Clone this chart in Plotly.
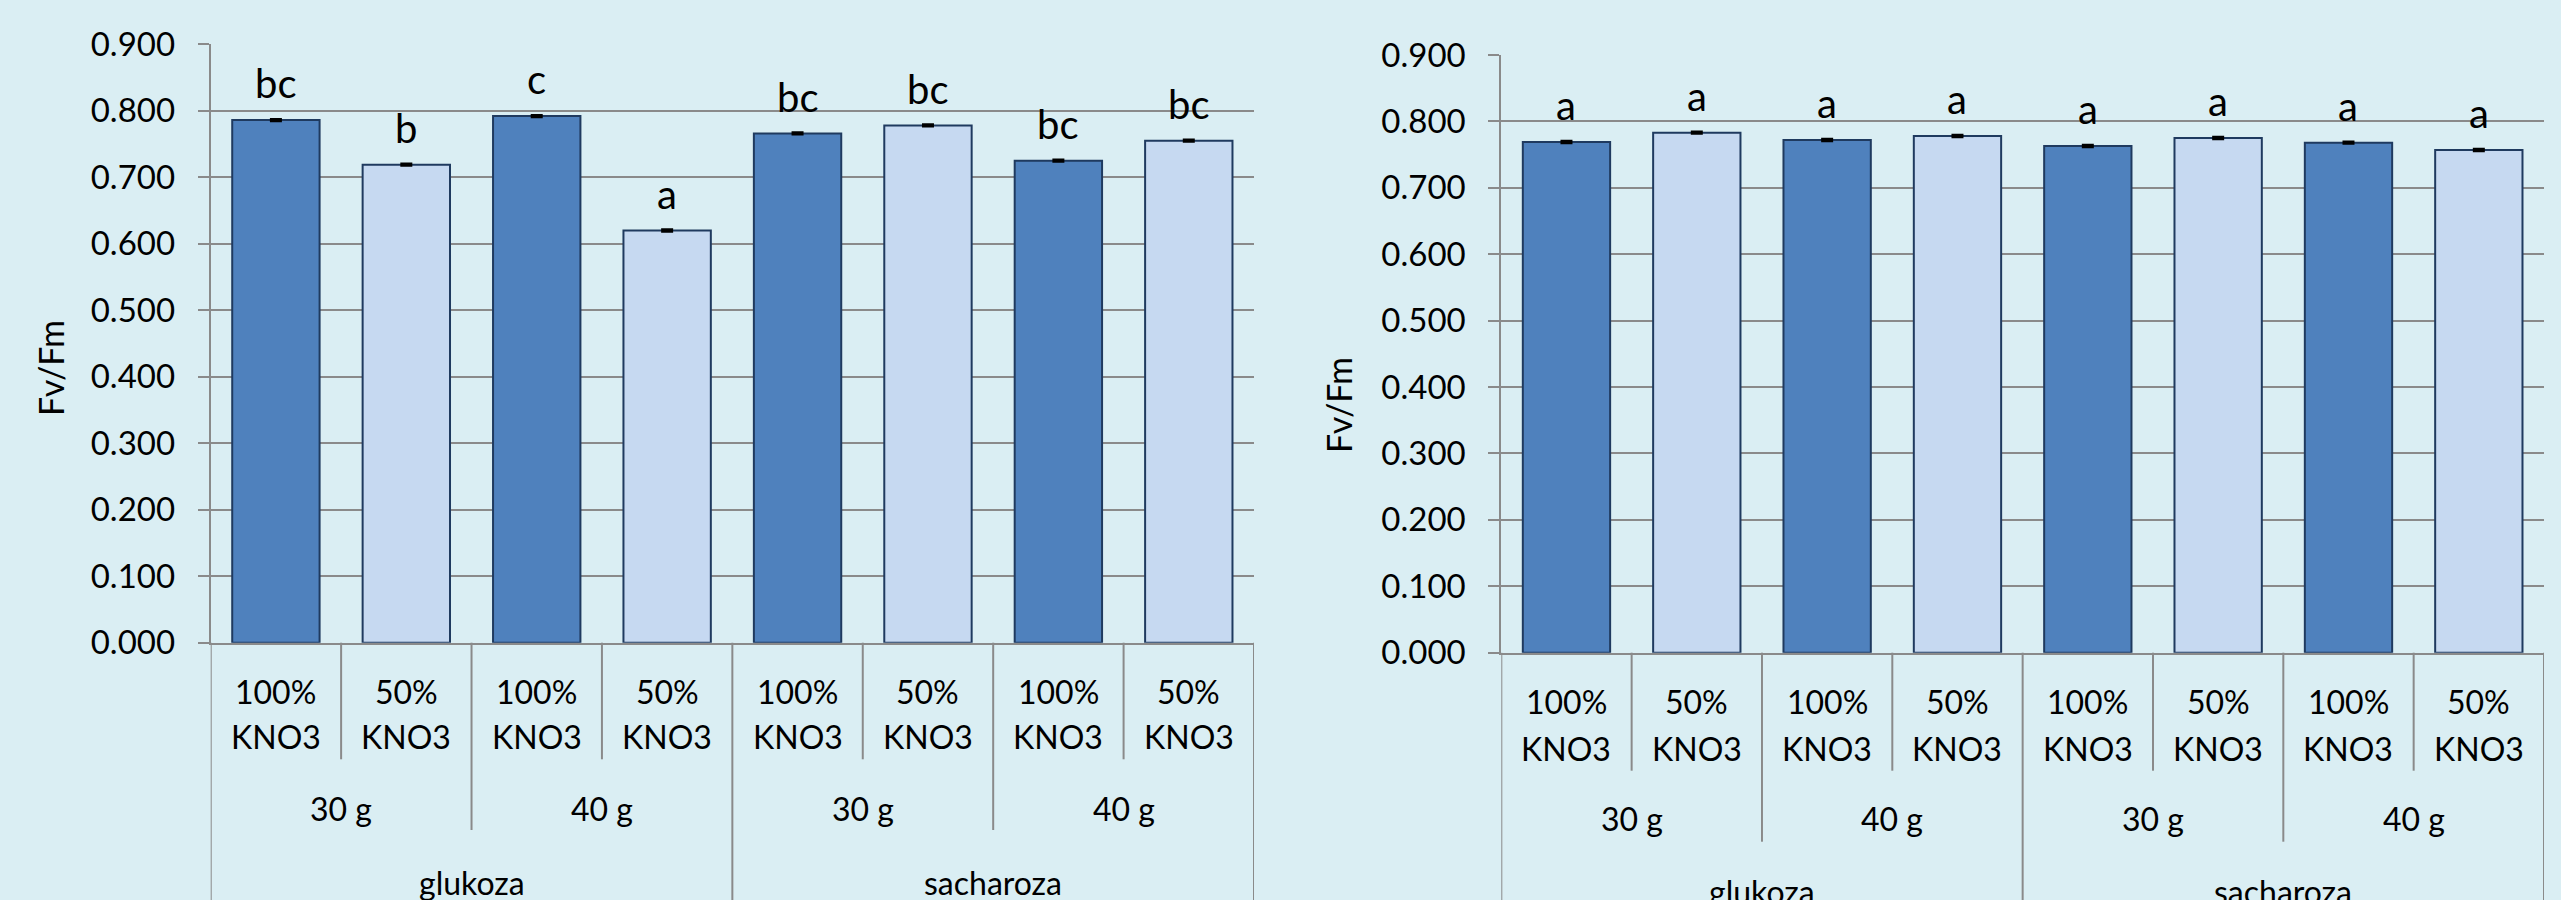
import plotly.graph_objects as go

# Category hierarchy along the x axis (innermost level first)
nitrate = ["100%<br>KNO3", "50%<br>KNO3"] * 4
dose = ["30 g", "40 g", "30 g", "40 g"]
sugar = ["glukoza", "sacharoza"]

# Fv/Fm means, standard errors and significance letters
fvfm_left = [0.786, 0.719, 0.792, 0.620, 0.766, 0.778, 0.725, 0.755]
err_left = [0.001, 0.001, 0.001, 0.001, 0.001, 0.001, 0.001, 0.001]
letters_left = ["bc", "b", "c", "a", "bc", "bc", "bc", "bc"]

fvfm_right = [0.769, 0.783, 0.772, 0.778, 0.763, 0.775, 0.768, 0.757]
err_right = [0.001, 0.001, 0.001, 0.001, 0.001, 0.001, 0.001, 0.001]
letters_right = ["a", "a", "a", "a", "a", "a", "a", "a"]

y_title = "Fv/Fm"

W, H = 2561, 900
BG = "#DAEEF3"
DARK = "#4F81BD"
LIGHT = "#C6D9F1"
EDGE = "#1F3A5F"
GRID = "#8A8A8A"
FONT = "Lato"


def fx(px):
    return px / W


def fy(px):
    return 1 - px / H


panels = [
    dict(values=fvfm_left, errs=err_left, letters=letters_left,
         x0=210.7, x1=1254.0, top=44.3, base=642.7, title=(50, 368),
         rows=(691.7, 736.7, 808.0, 882.0), divs=(759.3, 830.0, 900.0)),
    dict(values=fvfm_right, errs=err_right, letters=letters_right,
         x0=1501.3, x1=2544.0, top=55.0, base=652.7, title=(1339, 405),
         rows=(701.7, 748.0, 818.3, 891.0), divs=(770.7, 841.7, 900.0)),
]

positions = list(range(len(nitrate)))
colors = [DARK if lbl.startswith("100") else LIGHT for lbl in nitrate]

fig = go.Figure()
annotations = []
shapes = []
layout_axes = {}

for k, p in enumerate(panels, start=1):
    xa = "x" if k == 1 else f"x{k}"
    ya = "y" if k == 1 else f"y{k}"

    fig.add_trace(go.Bar(
        x=positions, y=p["values"], width=0.67,
        marker=dict(color=colors, line=dict(color=EDGE, width=2)),
        error_y=dict(type="data", array=p["errs"], color="black",
                     thickness=3, width=6),
        xaxis=xa, yaxis=ya, showlegend=False,
    ))

    layout_axes["xaxis" if k == 1 else f"xaxis{k}"] = dict(
        domain=[fx(p["x0"]), fx(p["x1"])], range=[-0.5, 7.5],
        anchor=ya, showticklabels=False, ticks="", showgrid=False,
        zeroline=False, showline=True, linecolor=GRID, linewidth=2,
        automargin=False,
    )
    layout_axes["yaxis" if k == 1 else f"yaxis{k}"] = dict(
        domain=[fy(p["base"]), fy(p["top"])], range=[0, 0.9],
        anchor=xa, tick0=0, dtick=0.1, tickformat=".3f",
        showgrid=True, gridcolor=GRID, gridwidth=2,
        ticks="outside", ticklen=11, tickwidth=2, tickcolor=GRID,
        showline=True, linecolor=GRID, linewidth=2, zeroline=False,
        tickfont=dict(family=FONT, size=33, color="black"),
        ticklabelstandoff=16, automargin=False,
    )

    # significance letters above each bar
    for i, (v, e, t) in enumerate(zip(p["values"], p["errs"], p["letters"])):
        annotations.append(dict(
            x=i, y=v + e, xref=xa, yref=ya, text=t, showarrow=False,
            yanchor="bottom", yshift=10,
            font=dict(family=FONT, size=40, color="black"),
        ))

    # axis title
    annotations.append(dict(
        x=fx(p["title"][0]), y=fy(p["title"][1]), xref="paper", yref="paper",
        text=y_title, textangle=-90, showarrow=False,
        xanchor="center", yanchor="middle",
        font=dict(family=FONT, size=34, color="black"),
    ))

    r1, r2, r3, r4 = p["rows"]
    d1, d2, d3 = p["divs"]
    base = fy(p["base"])

    # innermost level: nitrate share, two text rows
    for i, lbl in enumerate(nitrate):
        for line, row in zip(lbl.split("<br>"), (r1, r2)):
            annotations.append(dict(
                x=i, y=fy(row), xref=xa, yref="paper", text=line,
                showarrow=False, yanchor="middle",
                font=dict(family=FONT, size=32, color="black"),
            ))
    # middle level: sugar dose
    for j, lbl in enumerate(dose):
        annotations.append(dict(
            x=2 * j + 0.5, y=fy(r3), xref=xa, yref="paper", text=lbl,
            showarrow=False, yanchor="middle",
            font=dict(family=FONT, size=32, color="black"),
        ))
    # outer level: sugar type
    for j, lbl in enumerate(sugar):
        annotations.append(dict(
            x=4 * j + 1.5, y=fy(r4), xref=xa, yref="paper", text=lbl,
            showarrow=False, yanchor="middle",
            font=dict(family=FONT, size=32, color="black"),
        ))

    # divider lines between category groups
    for b in range(len(nitrate) + 1):
        xb = b - 0.5
        if b % 4 == 0:
            y_end = fy(d3)
        elif b % 2 == 0:
            y_end = fy(d2)
        else:
            y_end = fy(d1)
        shapes.append(dict(
            type="line", xref=xa, yref="paper", x0=xb, x1=xb,
            y0=base, y1=y_end, line=dict(color=GRID, width=2),
        ))

fig.update_layout(
    width=W, height=H, autosize=False,
    margin=dict(l=0, r=0, t=0, b=0, pad=0, autoexpand=False),
    paper_bgcolor=BG, plot_bgcolor=BG,
    font=dict(family=FONT, color="black"),
    bargap=0.33,
    annotations=annotations, shapes=shapes,
    **layout_axes,
)

fig.write_html("out.html")
